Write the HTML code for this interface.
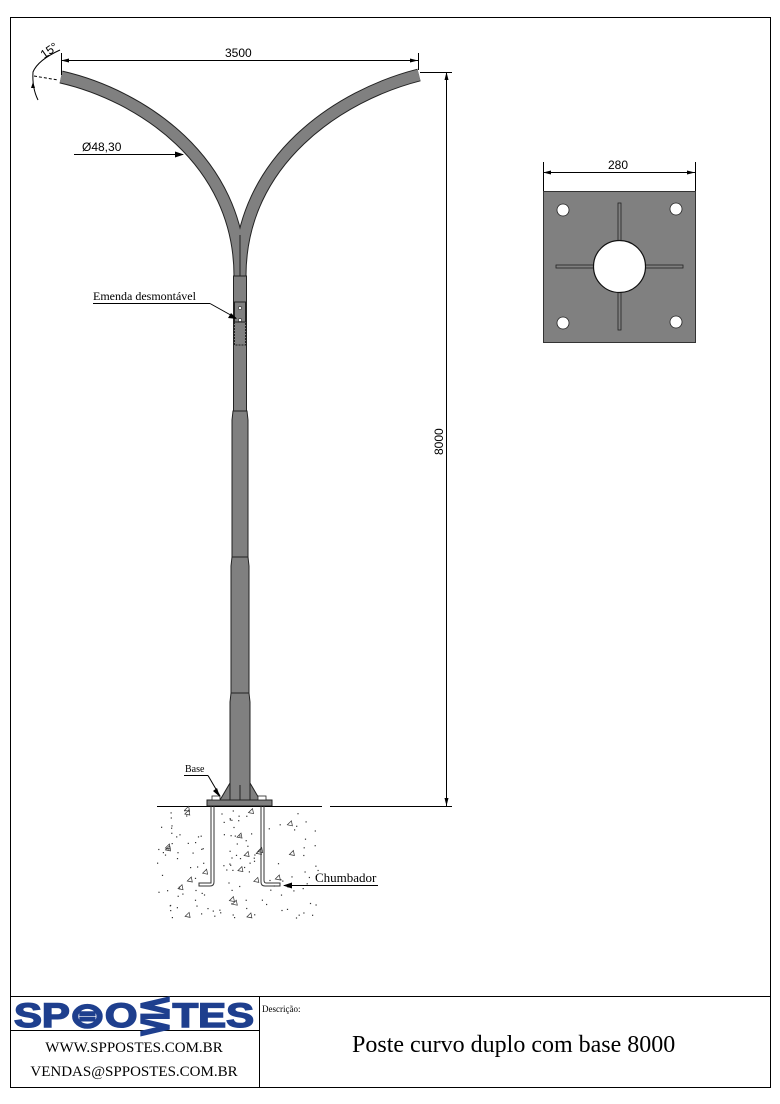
<!DOCTYPE html>
<html><head><meta charset="utf-8"><style>
html,body{margin:0;padding:0;background:#fff;}
svg{display:block;}
</style></head><body>
<svg id="s" width="780" height="1104" viewBox="0 0 780 1104" xmlns="http://www.w3.org/2000/svg">
<rect x="10.5" y="17.5" width="760" height="1070" fill="none" stroke="#000" stroke-width="1"/>
<!-- arms -->
<path d="M61 77 C140 95 240 160 240 276" fill="none" stroke="#222" stroke-width="13"/>
<path d="M419 75 C340 95 240 160 240 276" fill="none" stroke="#222" stroke-width="13"/>
<path d="M61 77 C140 95 240 160 240 276" fill="none" stroke="#808080" stroke-width="11"/>
<path d="M419 75 C340 95 240 160 240 276" fill="none" stroke="#808080" stroke-width="11"/>
<line x1="240" y1="235" x2="240" y2="276" stroke="#222" stroke-width="1"/>
<!-- pole -->
<g fill="#808080" stroke="#222" stroke-width="1">
<rect x="233.5" y="276" width="13" height="135"/>
<path d="M233 411 L247 411 L248 420 L248 557 L232 557 L232 420 Z"/>
<path d="M232 557 L248 557 L249 566 L249 693 L231 693 L231 566 Z"/>
<path d="M231 693 L249 693 L250 702 L250 800 L230 800 L230 702 Z"/>
<path d="M230 783 L220 800 L230 800 Z"/><path d="M250 783 L260 800 L250 800 Z"/>
<rect x="207" y="800" width="65" height="6"/>
</g>
<line x1="240" y1="785" x2="240" y2="800" stroke="#222"/>
<rect x="234.5" y="302" width="11" height="20" fill="none" stroke="#222"/>
<rect x="234.5" y="322" width="11" height="23" fill="none" stroke="#222" stroke-dasharray="2,1"/>
<circle cx="240" cy="308" r="1.6" fill="#fff" stroke="#222" stroke-width=".6"/>
<circle cx="240" cy="320" r="1.6" fill="#fff" stroke="#222" stroke-width=".6"/>
<!-- nuts -->
<g fill="#fff" stroke="#222" stroke-width=".8"><rect x="212" y="796" width="8" height="4"/><rect x="258" y="796" width="8" height="4"/></g>
<!-- ground -->
<line x1="157" y1="806.5" x2="322" y2="806.5" stroke="#000"/>
<line x1="330" y1="806.5" x2="452" y2="806.5" stroke="#000"/>
<!-- anchors -->
<g fill="none" stroke="#333" stroke-width="1">
<path d="M214 806 V882 Q214 886 210 886 H199 V883 H211 Q211 883 211 880 V806"/>
<path d="M261 806 V882 Q261 886 265 886 H280 V883 H266 Q264 883 264 880 V806"/>
</g>
<g id="st" fill="#333"></g>
<!-- dims -->
<g stroke="#000" stroke-width="1" fill="none">
<line x1="61" y1="60.5" x2="418" y2="60.5"/>
<line x1="61.5" y1="53" x2="61.5" y2="75"/><line x1="418.5" y1="53" x2="418.5" y2="70"/>
<line x1="446.5" y1="72" x2="446.5" y2="806"/>
<line x1="420" y1="72.5" x2="452" y2="72.5"/>
<path d="M60 50 Q38 60 33 72 Q32 88 38 100"/>
<line x1="34" y1="76" x2="58" y2="80" stroke-dasharray="3,2"/>
<line x1="74" y1="154.5" x2="183" y2="154.5"/>
<line x1="93" y1="303.5" x2="210" y2="303.5"/><line x1="210" y1="303.5" x2="236" y2="318"/>
<line x1="184" y1="775.5" x2="208" y2="775.5"/><line x1="208" y1="775.5" x2="220" y2="796"/>
<line x1="284" y1="885.5" x2="378" y2="885.5"/>
<line x1="543.5" y1="162" x2="543.5" y2="191"/><line x1="695.5" y1="162" x2="695.5" y2="191"/>
<line x1="543" y1="172.5" x2="695" y2="172.5"/>
</g>
<g fill="#000">
<path d="M61 60.5 l8 -2 v4 z"/><path d="M418 60.5 l-8 -2 v4 z"/>
<path d="M446.5 72 l-2 8 h4 z"/><path d="M446.5 806 l-2 -8 h4 z"/>
<path d="M184 154.5 l-9 -3 v6 z"/>
<path d="M237 319 l-9 -1 l3 -5 z"/>
<path d="M220 797 l-7 -6 l4 -3 z"/>
<path d="M283 885.5 l9 -3 v6 z"/>
<path d="M543 172.5 l8 -2 v4 z"/><path d="M695 172.5 l-8 -2 v4 z"/>
<path d="M33 82 l-2 6 l4 0 z"/>
</g>
<g font-family="Liberation Sans, sans-serif" font-size="12" fill="#000">
<text x="225" y="57">3500</text>
<text x="82" y="151">Ø48,30</text>
<text x="608" y="169">280</text>
<text transform="translate(443,455) rotate(-90)">8000</text>
<text transform="translate(44,59) rotate(-35)">15°</text>
</g>
<g font-family="Liberation Serif, serif" fill="#000">
<text x="93" y="300" font-size="12">Emenda desmontável</text>
<text x="185" y="772" font-size="10">Base</text>
<text x="315" y="882" font-size="13">Chumbador</text>
</g>
<!-- plate -->
<rect x="543.5" y="191.5" width="152" height="151" fill="#808080" stroke="#333"/>
<g fill="#808080" stroke="#222" stroke-width=".8">
<rect x="618" y="203" width="3" height="40"/><rect x="618" y="292" width="3" height="38"/>
<rect x="556" y="265" width="40" height="3"/><rect x="643" y="265" width="40" height="3"/>
</g>
<circle cx="619.5" cy="266.5" r="26" fill="#fff" stroke="#111" stroke-width="1.2"/>
<g fill="#fff" stroke="#222" stroke-width=".8">
<circle cx="563" cy="210" r="6"/><circle cx="676" cy="209" r="6"/>
<circle cx="563" cy="323" r="6"/><circle cx="676" cy="322" r="6"/>
</g>
<!-- title block -->
<line x1="10" y1="996.5" x2="770" y2="996.5" stroke="#000"/>
<line x1="259.5" y1="996" x2="259.5" y2="1087" stroke="#000"/>
<line x1="10" y1="1030.5" x2="259" y2="1030.5" stroke="#000"/>
<rect x="12" y="998" width="246" height="31" fill="#fff"/>
<text x="134" y="1027" text-anchor="middle" font-family="Liberation Sans, sans-serif" font-weight="bold" font-size="34" fill="#1e3f8e" stroke="#1e3f8e" stroke-width="1.5" textLength="240" lengthAdjust="spacingAndGlyphs">SP⊜O⋚TES</text>
<g font-family="Liberation Serif, serif" fill="#000">
<text x="262" y="1012" font-size="9">Descrição:</text>
<text x="134" y="1052" font-size="15" text-anchor="middle">WWW.SPPOSTES.COM.BR</text>
<text x="134" y="1076" font-size="15" text-anchor="middle">VENDAS@SPPOSTES.COM.BR</text>
<text x="352" y="1052" font-size="24">Poste  curvo duplo com base 8000</text>
</g>
</svg>
<script>
var g=document.getElementById('st'),s=7,h='';
function r(){s=(s*9301+49297)%233280;return s/233280;}
for(var i=0;i<170;i++){var x=157+r()*165,y=810+r()*108;
if(x>207&&x<218&&y<888)continue;if(x>258&&x<268&&y<888)continue;
if(i%8==0)h+='<path d="M'+x.toFixed(1)+' '+y.toFixed(1)+' l4 -4 l1 5 z" fill="none" stroke="#333" stroke-width=".7"/>';
else h+='<rect x="'+x.toFixed(1)+'" y="'+y.toFixed(1)+'" width="1.2" height="1.2"/>';}
g.innerHTML=h;
</script>
</body></html>
